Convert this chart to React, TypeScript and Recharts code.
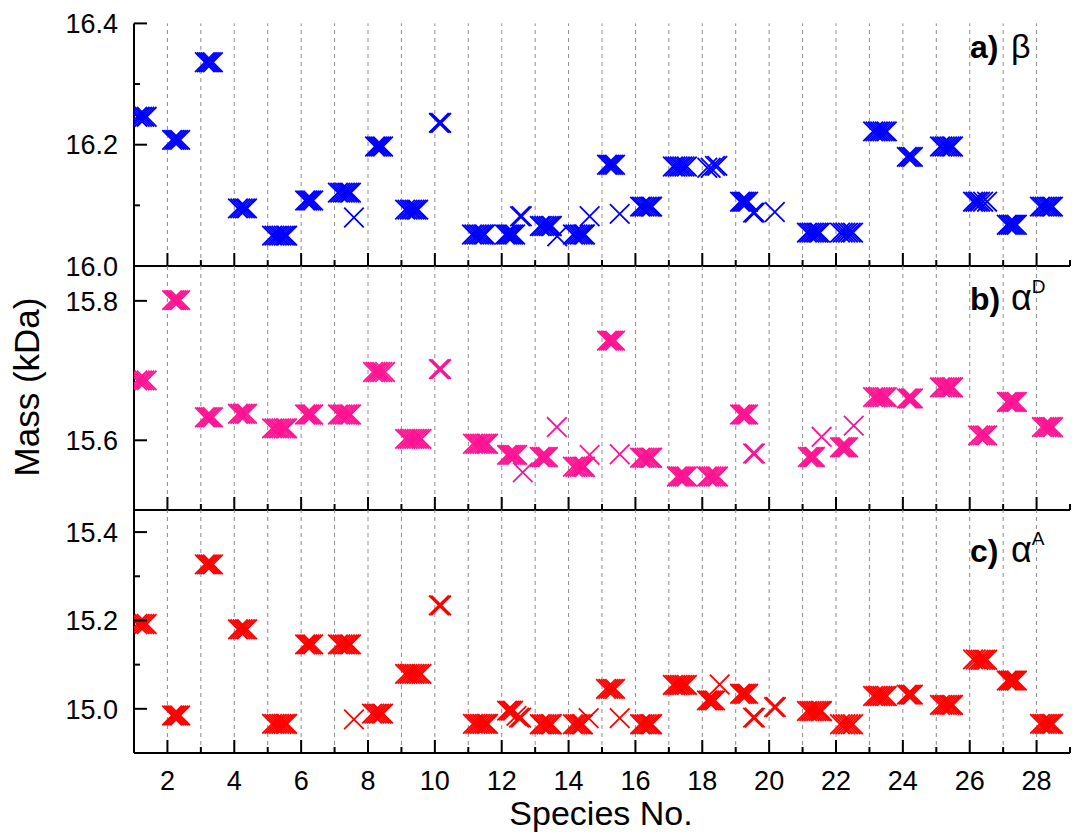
import { ReferenceLine, Scatter, ScatterChart, XAxis, YAxis } from "recharts";

const FONT = '"Liberation Sans", Arial, sans-serif';
const W = 1076;
const H = 838;

// x axis: species number, tick at every integer, label on the even ones
const speciesTicks = [2, 3, 4, 5, 6, 7, 8, 9, 10, 11, 12, 13, 14, 15, 16, 17, 18, 19, 20, 21, 22, 23, 24, 25, 26, 27, 28, 29];
const speciesLabels = [2, 4, 6, 8, 10, 12, 14, 16, 18, 20, 22, 24, 26, 28];
const gridSpecies = [2, 3, 4, 5, 6, 7, 8, 9, 10, 11, 12, 13, 14, 15, 16, 17, 18, 19, 20, 21, 22, 23, 24, 25, 26, 27, 28];

// each row: [mass, x positions of the crosses drawn at that mass]
type Cluster = [number, number[]];

const betaClusters: Cluster[] = [
  [16.246, [1.1, 1.17, 1.24, 1.31, 1.38]],
  [16.208, [2.14, 2.2, 2.26, 2.32, 2.38]],
  [16.336, [3.12, 3.18, 3.24, 3.3, 3.36]],
  [16.095, [4.11, 4.18, 4.25, 4.32, 4.38]],
  [16.05, [5.13, 5.2, 5.27, 5.34, 5.41, 5.48, 5.54, 5.58]],
  [16.108, [6.12, 6.18, 6.24, 6.3, 6.36]],
  [16.121, [7.1, 7.17, 7.24, 7.31, 7.38, 7.44, 7.49]],
  [16.08, [7.58]],
  [16.197, [8.21, 8.27, 8.33, 8.39, 8.45]],
  [16.093, [9.11, 9.18, 9.25, 9.32, 9.39, 9.45, 9.5]],
  [16.236, [10.12, 10.15, 10.19]],
  [16.052, [11.11, 11.18, 11.25, 11.32, 11.39, 11.45, 11.5]],
  [16.052, [12.1, 12.16, 12.22, 12.28, 12.34, 12.4]],
  [16.082, [12.55, 12.6]],
  [16.066, [13.14, 13.2, 13.27, 13.34, 13.41, 13.47, 13.5]],
  [16.049, [13.66]],
  [16.052, [14.13, 14.2, 14.27, 14.34, 14.41, 14.46, 14.49]],
  [16.082, [14.63]],
  [16.167, [15.15, 15.21, 15.27, 15.33, 15.39]],
  [16.086, [15.53]],
  [16.098, [16.14, 16.2, 16.27, 16.34, 16.41, 16.46, 16.5]],
  [16.164, [17.12, 17.19, 17.26, 17.33, 17.4, 17.47, 17.54]],
  [16.162, [18.15, 18.25]],
  [16.165, [18.38, 18.45]],
  [16.106, [19.13, 19.19, 19.25, 19.31, 19.37]],
  [16.088, [19.52, 19.57]],
  [16.089, [20.17]],
  [16.055, [21.13, 21.2, 21.27, 21.34, 21.41, 21.47, 21.52]],
  [16.055, [22.12, 22.2, 22.28, 22.36, 22.44, 22.51]],
  [16.222, [23.11, 23.18, 23.25, 23.32, 23.39, 23.46, 23.52]],
  [16.18, [24.12, 24.18, 24.24, 24.3]],
  [16.197, [25.11, 25.18, 25.25, 25.32, 25.39, 25.45, 25.5]],
  [16.106, [26.1, 26.17, 26.24, 26.31, 26.4, 26.52]],
  [16.068, [27.11, 27.17, 27.23, 27.29, 27.35, 27.41]],
  [16.098, [28.1, 28.17, 28.24, 28.31, 28.38, 28.44, 28.49]],
];

const alphaDClusters: Cluster[] = [
  [15.686, [1.1, 1.17, 1.24, 1.31, 1.38]],
  [15.801, [2.14, 2.2, 2.26, 2.32, 2.38]],
  [15.633, [3.12, 3.18, 3.24, 3.3, 3.36]],
  [15.638, [4.11, 4.18, 4.25, 4.32, 4.38]],
  [15.617, [5.13, 5.2, 5.27, 5.34, 5.41, 5.48, 5.54, 5.58]],
  [15.637, [6.12, 6.18, 6.24, 6.3, 6.36]],
  [15.637, [7.1, 7.17, 7.24, 7.31, 7.38, 7.44, 7.49]],
  [15.698, [8.15, 8.22, 8.29, 8.36, 8.43, 8.51]],
  [15.602, [9.11, 9.18, 9.25, 9.32, 9.39, 9.46, 9.53, 9.6]],
  [15.702, [10.12, 10.15, 10.19]],
  [15.595, [11.14, 11.21, 11.28, 11.35, 11.42, 11.49, 11.55, 11.59]],
  [15.579, [12.16, 12.22, 12.28, 12.34, 12.4, 12.46]],
  [15.554, [12.63]],
  [15.576, [13.14, 13.2, 13.26, 13.32, 13.38]],
  [15.619, [13.65]],
  [15.562, [14.13, 14.2, 14.27, 14.34, 14.41, 14.46, 14.49]],
  [15.579, [14.63]],
  [15.743, [15.15, 15.21, 15.27, 15.33, 15.39]],
  [15.58, [15.53]],
  [15.575, [16.14, 16.2, 16.27, 16.34, 16.41, 16.46, 16.5]],
  [15.548, [17.24, 17.3, 17.36, 17.42, 17.48, 17.54]],
  [15.548, [18.14, 18.2, 18.27, 18.34, 18.41, 18.47]],
  [15.637, [19.13, 19.19, 19.25, 19.31, 19.37]],
  [15.581, [19.52, 19.57]],
  [15.576, [21.16, 21.22, 21.28, 21.33, 21.37]],
  [15.605, [21.57]],
  [15.59, [22.12, 22.18, 22.24, 22.3, 22.36]],
  [15.621, [22.53]],
  [15.662, [23.11, 23.18, 23.25, 23.32, 23.39, 23.46, 23.52]],
  [15.66, [24.12, 24.18, 24.24, 24.3]],
  [15.676, [25.11, 25.18, 25.25, 25.32, 25.39, 25.45, 25.5]],
  [15.607, [26.25, 26.32, 26.39, 26.46, 26.52]],
  [15.655, [27.11, 27.17, 27.23, 27.29, 27.35, 27.41]],
  [15.619, [28.16, 28.23, 28.3, 28.37, 28.43, 28.49]],
];

const alphaAClusters: Cluster[] = [
  [15.192, [1.1, 1.17, 1.24, 1.31, 1.38]],
  [14.985, [2.14, 2.2, 2.26, 2.32, 2.38]],
  [15.327, [3.12, 3.18, 3.24, 3.3, 3.36]],
  [15.18, [4.11, 4.18, 4.25, 4.32, 4.38]],
  [14.966, [5.13, 5.2, 5.27, 5.34, 5.41, 5.48, 5.54, 5.58]],
  [15.146, [6.12, 6.18, 6.24, 6.3, 6.36]],
  [15.146, [7.1, 7.17, 7.24, 7.31, 7.38, 7.44, 7.49]],
  [14.976, [7.58]],
  [14.989, [8.12, 8.19, 8.26, 8.33, 8.4, 8.45]],
  [15.079, [9.11, 9.18, 9.25, 9.32, 9.39, 9.46, 9.53, 9.6]],
  [15.234, [10.12, 10.15, 10.19]],
  [14.966, [11.14, 11.21, 11.28, 11.35, 11.42, 11.49, 11.55, 11.59]],
  [14.996, [12.16, 12.22, 12.28, 12.34]],
  [14.984, [12.44]],
  [14.98, [12.52, 12.58]],
  [14.965, [13.14, 13.2, 13.27, 13.34, 13.41, 13.47, 13.5]],
  [14.965, [14.13, 14.2, 14.27, 14.34, 14.4, 14.43]],
  [14.979, [14.6]],
  [15.045, [15.12, 15.19, 15.26, 15.33, 15.39]],
  [14.979, [15.53]],
  [14.965, [16.14, 16.2, 16.27, 16.34, 16.41, 16.46, 16.5]],
  [15.054, [17.12, 17.19, 17.26, 17.33, 17.4, 17.47, 17.54]],
  [15.019, [18.14, 18.2, 18.26, 18.32, 18.38]],
  [15.055, [18.52]],
  [15.034, [19.13, 19.19, 19.25, 19.31, 19.37]],
  [14.98, [19.52, 19.57]],
  [15.004, [20.15, 20.2]],
  [14.995, [21.13, 21.2, 21.27, 21.34, 21.41, 21.48, 21.54, 21.58]],
  [14.965, [22.12, 22.2, 22.28, 22.36, 22.44, 22.51]],
  [15.029, [23.11, 23.18, 23.25, 23.32, 23.39, 23.46, 23.52]],
  [15.032, [24.12, 24.18, 24.24, 24.3]],
  [15.009, [25.11, 25.18, 25.25, 25.32, 25.39, 25.45, 25.5]],
  [15.112, [26.1, 26.18]],
  [15.111, [26.26, 26.33, 26.4, 26.46, 26.52]],
  [15.064, [27.11, 27.17, 27.23, 27.29, 27.35, 27.41]],
  [14.966, [28.1, 28.17, 28.24, 28.31, 28.38, 28.44, 28.49]],
];

const betaTicks = [16.0, 16.1, 16.2, 16.3, 16.4];
const betaLabels = [16.0, 16.2, 16.4];
const alphaDTicks = [15.6, 15.8];
const alphaDLabels = [15.6, 15.8];
const alphaATicks = [15.0, 15.1, 15.2, 15.3, 15.4];
const alphaALabels = [15.0, 15.2, 15.4];

function toPoints(clusters: Cluster[]) {
  return clusters.flatMap(([y, xs]) => xs.map((x) => ({ x, y })));
}

function Cross(props: any) {
  const { cx, cy, fill } = props;
  if (cx == null || cy == null) return null;
  const h = 9.8;
  return (
    <path
      d={`M${cx - h},${cy - h}L${cx + h},${cy + h}M${cx - h},${cy + h}L${cx + h},${cy - h}`}
      stroke={fill}
      strokeWidth={1.8}
      fill="none"
    />
  );
}

function XTick({ x, y, payload, showLabels }: any) {
  const v = payload.value;
  const major = speciesLabels.includes(v);
  return (
    <g>
      <line x1={x} x2={x} y1={y} y2={y - (major ? 13 : 6)} stroke="#000" strokeWidth={2} />
      {showLabels && major && (
        <text x={x} y={y + 37} textAnchor="middle" fontSize={27} fontFamily={FONT} fill="#000">
          {v}
        </text>
      )}
    </g>
  );
}

function YTick({ x, y, payload, labels }: any) {
  const v = payload.value;
  const major = labels.some((m: number) => Math.abs(m - v) < 1e-6);
  return (
    <g>
      <line x1={x} x2={x + (major ? 13 : 6)} y1={y} y2={y} stroke="#000" strokeWidth={2} />
      {major && (
        <text x={x - 16} y={y} dy="0.36em" textAnchor="end" fontSize={27} fontFamily={FONT} fill="#000">
          {v.toFixed(1)}
        </text>
      )}
    </g>
  );
}

function Panel({ clusters, color, domain, ticks, labels, top, bottom, showLabels }: any) {
  return (
    <div style={{ position: "absolute", left: 0, top: 0 }}>
      <ScatterChart width={W} height={H} margin={{ top, right: 6, bottom: H - bottom - 30, left: 74 }}>
        <XAxis
          type="number"
          dataKey="x"
          domain={[1, 29]}
          ticks={speciesTicks}
          interval={0}
          allowDataOverflow
          height={30}
          axisLine={{ stroke: "#000", strokeWidth: 2 }}
          tickLine={false}
          tickSize={0}
          tickMargin={0}
          tick={(p: any) => <XTick {...p} showLabels={showLabels} />}
        />
        <YAxis
          type="number"
          dataKey="y"
          domain={domain}
          ticks={ticks}
          interval={0}
          width={60}
          allowDataOverflow
          axisLine={{ stroke: "#000", strokeWidth: 2 }}
          tickLine={false}
          tickSize={0}
          tickMargin={0}
          tick={(p: any) => <YTick {...p} labels={labels} />}
        />
        {gridSpecies.map((v) => (
          <ReferenceLine key={v} x={v} stroke="#8c8c8c" strokeDasharray="4 4" />
        ))}
        <Scatter data={toPoints(clusters)} fill={color} shape={<Cross />} isAnimationActive={false} />
      </ScatterChart>
    </div>
  );
}

export default function App() {
  return (
    <div style={{ position: "absolute", left: 0, top: 0, width: W, height: H, background: "#fff" }}>
      <Panel clusters={betaClusters} color="#0000ff" domain={[16.0, 16.4]} ticks={betaTicks} labels={betaLabels} top={23.4} bottom={266} />
      <Panel clusters={alphaDClusters} color="#ff1493" domain={[15.5, 15.85]} ticks={alphaDTicks} labels={alphaDLabels} top={266} bottom={510} />
      <Panel clusters={alphaAClusters} color="#ff0000" domain={[14.9, 15.45]} ticks={alphaATicks} labels={alphaALabels} top={510} bottom={753} showLabels />
      <svg width={W} height={H} style={{ position: "absolute", left: 0, top: 0, pointerEvents: "none" }} fontFamily={FONT}>
        <text x={601} y={825} textAnchor="middle" fontSize={34} fill="#000">
          Species No.
        </text>
        <text transform="translate(39,387) rotate(-90)" textAnchor="middle" fontSize={35} fill="#000">
          Mass (kDa)
        </text>
        <text x={970} y={58} fontSize={32} fill="#000">
          <tspan fontWeight="bold">a)</tspan>
          <tspan x={1011} fontSize={34}>β</tspan>
        </text>
        <text x={970} y={310} fontSize={32} fill="#000">
          <tspan fontWeight="bold">b)</tspan>
          <tspan x={1011} fontSize={36}>α</tspan>
          <tspan fontSize={19} dy={-17}>D</tspan>
        </text>
        <text x={970} y={562} fontSize={32} fill="#000">
          <tspan fontWeight="bold">c)</tspan>
          <tspan x={1011} fontSize={36}>α</tspan>
          <tspan fontSize={19} dy={-17}>A</tspan>
        </text>
      </svg>
    </div>
  );
}
